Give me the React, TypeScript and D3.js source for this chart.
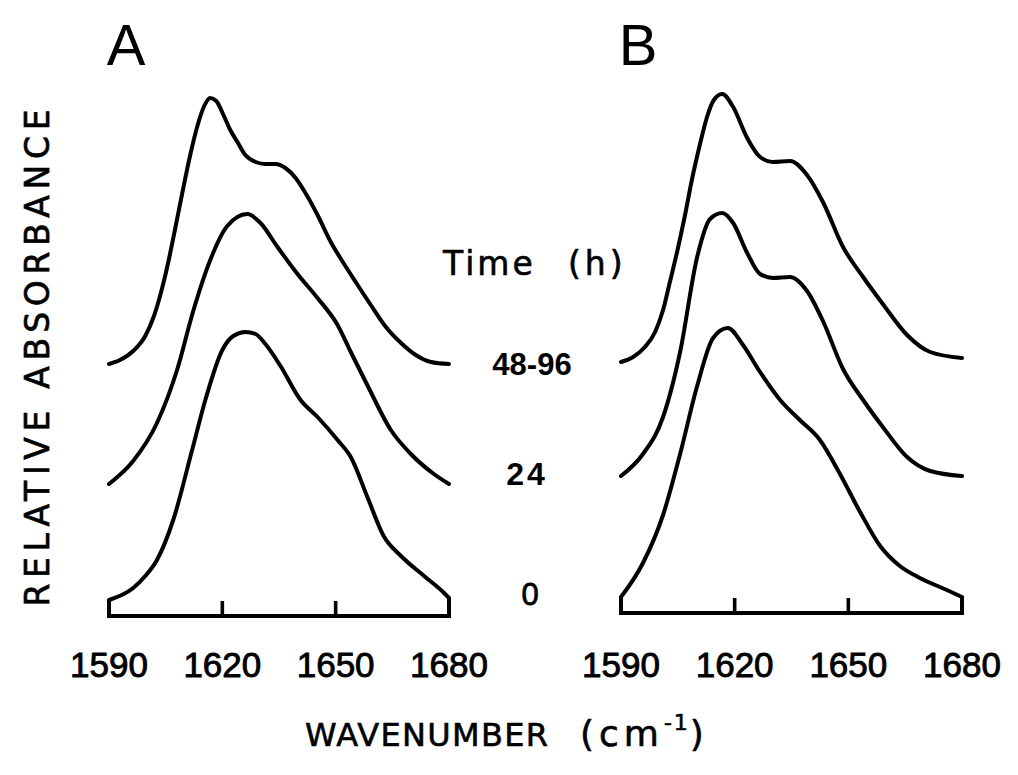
import React from "react";
import * as d3 from "d3";

// Wavenumber axis (cm^-1)
const wavenumberTicks = [1590, 1620, 1650, 1680];
const wavenumberDomain = [1590, 1680];

// Time labels (h), from top spectrum to bottom
const timeLabels = ["48-96", "24", "0"];

// Panel A spectra: [wavenumber, relative absorbance (stacked, arbitrary units)]
const panelA_48_96: [number, number][] = [
  [1590, 2.52], [1592.9, 2.56], [1596.4, 2.65], [1599.6, 2.8], [1601.9, 3.0],
  [1603.8, 3.24], [1605.7, 3.54], [1607.5, 3.87], [1609.4, 4.23], [1611.5, 4.61],
  [1613.4, 4.9], [1615.2, 5.1], [1616.8, 5.18], [1618.4, 5.15], [1620.3, 5.01],
  [1622.1, 4.86], [1624.0, 4.74], [1626.1, 4.61], [1628.8, 4.54], [1631.4, 4.52],
  [1634.1, 4.52], [1636.7, 4.48], [1639.4, 4.38], [1642.0, 4.23], [1645.2, 4.01],
  [1648.7, 3.74], [1651.9, 3.54], [1655.3, 3.34], [1659.3, 3.11], [1663.3, 2.89],
  [1667.3, 2.73], [1671.2, 2.61], [1675.2, 2.54], [1680, 2.52],
];
const panelA_24: [number, number][] = [
  [1590, 1.32], [1596.4, 1.55], [1602.7, 1.93], [1608.1, 2.47], [1612.3, 3.05],
  [1616.8, 3.56], [1621.3, 3.9], [1626.6, 4.02], [1630.1, 3.93], [1634.6, 3.69],
  [1639.9, 3.42], [1645.2, 3.18], [1650.5, 2.91], [1654.0, 2.64], [1658.5, 2.3],
  [1664.6, 1.86], [1669.9, 1.62], [1676.0, 1.42], [1680, 1.32],
];
const panelA_0: [number, number][] = [
  [1590, 0.16], [1596.4, 0.28], [1599.6, 0.4], [1602.7, 0.56], [1607.0, 0.96],
  [1612.0, 1.66], [1615.5, 2.16], [1620.0, 2.66], [1622.9, 2.8], [1626.1, 2.84],
  [1628.8, 2.82], [1631.4, 2.72], [1635.4, 2.5], [1640.7, 2.16],
  [1645.2, 1.99], [1650.5, 1.76], [1654.0, 1.59], [1658.5, 1.18], [1662.7, 0.8],
  [1667.3, 0.6], [1673.4, 0.4], [1678.7, 0.23], [1680, 0.18],
];

// Panel B spectra
const panelB_48_96: [number, number][] = [
  [1590, 2.51], [1593.2, 2.56], [1596.3, 2.66], [1599.0, 2.81], [1601.1, 3.03],
  [1602.9, 3.31], [1604.8, 3.61], [1606.9, 3.98], [1608.7, 4.33], [1610.8, 4.68],
  [1612.7, 4.96], [1614.5, 5.13], [1616.7, 5.19], [1619.6, 5.06], [1623.3, 4.75],
  [1626.7, 4.56], [1630.1, 4.51], [1634.6, 4.52], [1639.1, 4.38], [1643.3, 4.11],
  [1648.6, 3.66], [1653.9, 3.36], [1659.1, 3.09], [1665.5, 2.78], [1671.6, 2.61],
  [1680, 2.55],
];
const panelB_24: [number, number][] = [
  [1590, 1.37], [1595.8, 1.59], [1601.1, 1.96], [1605.6, 2.61], [1610.1, 3.56],
  [1613.5, 3.94], [1616.7, 4.0], [1619.6, 3.9], [1623.3, 3.6], [1626.7, 3.39],
  [1630.1, 3.35], [1634.6, 3.36], [1639.1, 3.22], [1643.3, 2.92], [1648.6, 2.44],
  [1653.9, 2.13], [1659.1, 1.86], [1665.5, 1.56], [1671.6, 1.42], [1680, 1.37],
];
const panelB_0: [number, number][] = [
  [1590, 0.16], [1595.8, 0.5], [1601.1, 0.98], [1605.6, 1.59], [1610.1, 2.27],
  [1614.3, 2.75], [1618.2, 2.85], [1622.2, 2.68], [1626.7, 2.41], [1632.0, 2.13],
  [1637.2, 1.93], [1642.5, 1.73], [1647.8, 1.39], [1653.1, 1.01], [1658.4, 0.67],
  [1663.6, 0.47], [1668.9, 0.35], [1676.0, 0.23], [1680, 0.16],
];

const panels = [
  { id: "A", x0: 109, x1: 449, base: 616, series: [panelA_48_96, panelA_24, panelA_0] },
  { id: "B", x0: 621, x1: 962, base: 613, series: [panelB_48_96, panelB_24, panelB_0] },
];

const FONT = "'Liberation Sans', Arial, sans-serif";
const TFONT = "'DejaVu Sans', 'Liberation Sans', sans-serif";

function Panel({ p }: { p: (typeof panels)[number] }) {
  const x = d3.scaleLinear().domain(wavenumberDomain).range([p.x0, p.x1]);
  const y = d3.scaleLinear().domain([0, 1]).range([p.base, p.base - 100]);
  const line = d3
    .line<[number, number]>()
    .x((d) => x(d[0]))
    .y((d) => y(d[1]))
    .curve(d3.curveMonotoneX);
  const bottom = p.series[p.series.length - 1];
  const first = bottom[0];
  const last = bottom[bottom.length - 1];
  const axisPath = `M${x(first[0])},${y(first[1])}V${y(0)}H${x(last[0])}V${y(last[1])}`;
  return (
    <g>
      <text x={x(1594.5)} y={65} fontFamily={FONT} fontSize={58} textAnchor="middle" fill="#000">
        {p.id}
      </text>
      {p.series.map((s, i) => (
        <path
          key={i}
          d={line(s) || ""}
          fill="none"
          stroke="#000"
          strokeWidth={4}
          strokeLinecap="round"
          strokeLinejoin="round"
        />
      ))}
      <path d={axisPath} fill="none" stroke="#000" strokeWidth={4} strokeLinejoin="miter" />
      {wavenumberTicks.slice(1, -1).map((t) => (
        <line key={t} x1={x(t)} x2={x(t)} y1={y(0)} y2={y(0) - 15} stroke="#000" strokeWidth={3.6} />
      ))}
      {wavenumberTicks.map((t) => (
        <text
          key={t}
          x={x(t)}
          y={677}
          fontFamily={FONT}
          fontSize={35}
          textAnchor="middle"
          fill="#000"
          stroke="#000"
          strokeWidth={0.9}
        >
          {t}
        </text>
      ))}
    </g>
  );
}

export default function App() {
  return (
    <svg width={1018} height={775} style={{ position: "absolute", left: 0, top: 0, background: "#fff" }}>
      <rect x={0} y={0} width={1018} height={775} fill="#fff" />
      {panels.map((p) => (
        <Panel key={p.id} p={p} />
      ))}
      <text
        x={37}
        y={358}
        transform="rotate(-90 37 358)"
        fontFamily={TFONT}
        fontSize={33}
        textAnchor="middle"
        dominantBaseline="central"
        textLength={497}
        lengthAdjust="spacing"
        fill="#000"
        stroke="#000"
        strokeWidth={0.7}
      >
        RELATIVE  ABSORBANCE
      </text>
      <text x={443} y={275} fontFamily={TFONT} fontSize={33} letterSpacing={3} fill="#000" stroke="#000" strokeWidth={0.6}>
        Time
      </text>
      <text x={568} y={275} fontFamily={TFONT} fontSize={33} letterSpacing={4} fill="#000" stroke="#000" strokeWidth={0.6}>
        (h)
      </text>
      <text x={532} y={375} fontFamily={FONT} fontSize={31} fontWeight="bold" textAnchor="middle" fill="#000">
        {timeLabels[0]}
      </text>
      <text x={527} y={485} fontFamily={FONT} fontSize={32} fontWeight="bold" textAnchor="middle" letterSpacing={3} fill="#000">
        {timeLabels[1]}
      </text>
      <text x={530} y={605} fontFamily={FONT} fontSize={31} textAnchor="middle" fill="#000" stroke="#000" strokeWidth={0.8}>
        {timeLabels[2]}
      </text>
      <text x={305} y={746} fontFamily={TFONT} fontSize={32} textLength={243} lengthAdjust="spacing" fill="#000" stroke="#000" strokeWidth={0.6}>
        WAVENUMBER
      </text>
      <text x={580} y={746} fontFamily={TFONT} fontSize={36} letterSpacing={5} fill="#000" stroke="#000" strokeWidth={0.6}>
        (cm
        <tspan fontSize={22} dy={-16} letterSpacing={2}>-1</tspan>
        <tspan dy={16} fontSize={36} letterSpacing={0}>)</tspan>
      </text>
    </svg>
  );
}
